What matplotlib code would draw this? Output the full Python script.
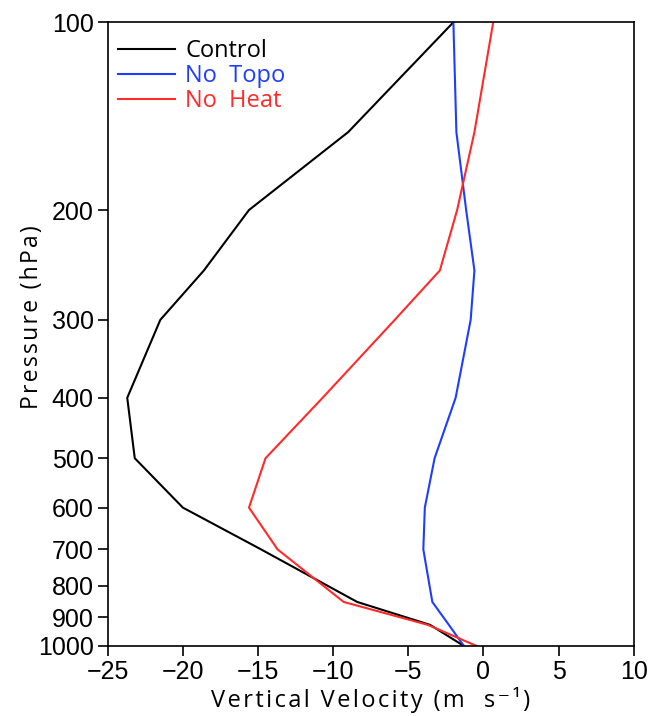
import matplotlib
matplotlib.use('Agg')
import matplotlib.pyplot as plt
from matplotlib.ticker import FixedLocator, NullLocator, FixedFormatter

# pressure levels (hPa)
levels = [1000, 925, 850, 700, 600, 500, 400, 300, 250, 200, 150, 100]

# vertical velocity profiles
control = [-1.3, -3.55, -8.4, -14.8, -20.0, -23.2, -23.7, -21.5, -18.6, -15.6, -9.0, -2.0]
no_topo = [-1.3, -2.3, -3.4, -4.0, -3.9, -3.25, -1.85, -0.85, -0.6, -1.15, -1.8, -2.0]
no_heat = [-0.45, -3.7, -9.3, -13.7, -15.6, -14.5, -10.7, -5.9, -2.9, -1.75, -0.6, 0.65]

yticks = [100, 200, 300, 400, 500, 600, 700, 800, 900, 1000]
xticks = [-25, -20, -15, -10, -5, 0, 5, 10]

fig = plt.figure(figsize=(6.62, 7.16), dpi=100)
ax = fig.add_axes([0.1627, 0.0978, 0.7946, 0.8711])

ax.plot(control, levels, color='black', lw=1.5, label='Control')
ax.plot(no_topo, levels, color='#1f3dff', lw=1.5, label='No  Topo')
ax.plot(no_heat, levels, color='#ff2a2a', lw=1.5, label='No  Heat')

ax.set_yscale('log')
ax.set_ylim(1000, 100)
ax.set_xlim(-25, 10)
ax.yaxis.set_major_locator(FixedLocator(yticks))
ax.yaxis.set_major_formatter(FixedFormatter([str(t) for t in yticks]))
ax.yaxis.set_minor_locator(NullLocator())
ax.set_xticks(xticks)
ax.set_xticklabels([str(t).replace('-', '\u2212') for t in xticks])

ax.tick_params(direction='out', length=7, width=1.2, labelsize=18, pad=3,
               top=False, right=False)
for lab in ax.get_xticklabels() + ax.get_yticklabels():
    lab.set_family('Liberation Sans')
for s in ax.spines.values():
    s.set_linewidth(1.2)


def spaced(s):
    # a little extra tracking between letters
    return '\u200a'.join(s)


fam = ['Open Sans', 'DejaVu Sans']
ax.set_xlabel(spaced('Vertical Velocity (m  s\u207b\u00b9)'),
              labelpad=2, family=fam, size=17)
ax.set_ylabel(spaced('Pressure (hPa)'), family=fam, size=16.5)
ax.yaxis.set_label_coords(-0.122, 0.5275)

leg = ax.legend(loc='upper left', frameon=False, handlelength=2.4,
                handletextpad=0.45, labelspacing=0.05, borderaxespad=0.3,
                bbox_to_anchor=(-0.012, 1.0),
                prop=dict(family=fam, size=17))
for txt, ln in zip(leg.get_texts(), leg.get_lines()):
    txt.set_color(ln.get_color())

fig.savefig('out.png', dpi=100)
